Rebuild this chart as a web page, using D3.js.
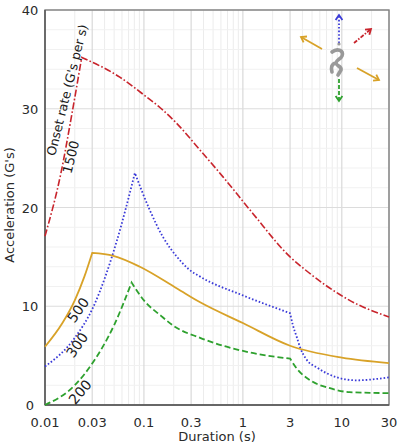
<!DOCTYPE html>
<html>
<head>
<meta charset="utf-8">
<script src="https://cdn.jsdelivr.net/npm/d3@7.9.0/dist/d3.min.js"></script>
<style>
  body { margin: 0; background: #fff; }
  text { font-family: "DejaVu Sans", sans-serif; fill: #2a2a2a; }
</style>
</head>
<body>
<svg width="400" height="445"></svg>
<script>
// tick labels
const xTicks = [0.01, 0.03, 0.1, 0.3, 1, 3, 10, 30];
const xTickLabels = ['0.01', '0.03', '0.1', '0.3', '1', '3', '10', '30'];
const yTicks = [0, 10, 20, 30, 40];

// curves: [duration (s), acceleration (G)]
const red1500 = [[0.01, 17.1], [0.0145, 23.5], [0.0188, 29.6], [0.0235, 35.2], [0.057, 33.2], [0.1, 31.4],
  [0.146, 30.1], [0.206, 28.7], [0.37, 25.8], [0.63, 23.1], [1.26, 19.4], [3, 15.0], [4.26, 13.7], [12, 10.6], [30, 8.9]];
const yellow500 = [[0.01, 5.9], [0.015, 8.3], [0.02, 10.6], [0.025, 13.0], [0.03, 15.4], [0.049, 15.1], [0.091, 14.0],
  [0.216, 11.8], [0.37, 10.4], [1, 8.3], [3, 6.0], [10, 4.8], [30, 4.25]];
const blue300 = [[0.01, 3.9], [0.02, 6.8], [0.031, 10.0], [0.0535, 16.7], [0.081, 23.5], [0.115, 19.7], [0.156, 17.0],
  [0.216, 15.0], [0.28, 13.8], [0.37, 13.0], [1, 11.1], [3, 9.3], [3.2, 8.1], [3.5, 6.9], [3.8, 5.8], [4.4, 4.6],
  [5.6, 3.8], [8.9, 2.8], [14, 2.5], [30, 2.8]];
const green200 = [[0.01, 0], [0.02, 2.0], [0.03, 4.2], [0.05, 8.1], [0.075, 12.4], [0.1, 10.6], [0.15, 9.0],
  [0.2, 8.0], [0.37, 6.8], [1.2, 5.3], [3, 4.7], [3.5, 3.7], [4.8, 2.5], [7.6, 1.7], [12, 1.3], [30, 1.2]];

// index of sharp corners in each curve
const series = [
  { data: red1500, corners: [3], color: '#c8242c', dash: '7,2.2,1.6,2.2', width: 1.6 },
  { data: blue300, corners: [4, 11], color: '#3a3ad8', dash: '1.6,2', width: 1.8 },
  { data: yellow500, corners: [4], color: '#d8a228', dash: null, width: 1.8 },
  { data: green200, corners: [4, 10], color: '#2ea12e', dash: '6,3', width: 1.8 },
];

const svg = d3.select('svg');
const x = d3.scaleLog().domain([0.01, 30]).range([45, 389]);
const y = d3.scaleLinear().domain([0, 40]).range([405, 10]);

// grid
let grid = svg.append('g');
let minorX = [];
[0.01, 0.1, 1, 10].forEach((d) => {
  [2, 4, 5, 6, 7, 8, 9].forEach((m) => { if (d * m < 30) minorX.push(d * m); });
});
grid.selectAll('.mx').data(minorX).join('line')
  .attr('x1', (d) => x(d)).attr('x2', (d) => x(d))
  .attr('y1', y(0)).attr('y2', y(40))
  .attr('stroke', '#ececec').attr('stroke-width', 1);
grid.selectAll('.my').data(d3.range(2, 40, 2).filter((d) => d % 10 !== 0)).join('line')
  .attr('x1', x(0.01)).attr('x2', x(30))
  .attr('y1', (d) => y(d)).attr('y2', (d) => y(d))
  .attr('stroke', '#f1f1f1').attr('stroke-width', 1);
grid.selectAll('.Mx').data(xTicks).join('line')
  .attr('x1', (d) => x(d)).attr('x2', (d) => x(d))
  .attr('y1', y(0)).attr('y2', y(40))
  .attr('stroke', '#d9d9d9').attr('stroke-width', 1.2);
grid.selectAll('.My').data(yTicks).join('line')
  .attr('x1', x(0.01)).attr('x2', x(30))
  .attr('y1', (d) => y(d)).attr('y2', (d) => y(d))
  .attr('stroke', '#dcdcdc').attr('stroke-width', 1.2);

// frame
svg.append('rect')
  .attr('x', x(0.01)).attr('y', y(40))
  .attr('width', x(30) - x(0.01)).attr('height', y(0) - y(40))
  .attr('fill', 'none').attr('stroke', '#808080').attr('stroke-width', 1.4);
svg.append('line').attr('x1', x(0.01)).attr('x2', x(0.01)).attr('y1', y(0)).attr('y2', y(40))
  .attr('stroke', '#555').attr('stroke-width', 1.4);
svg.append('line').attr('x1', x(0.01)).attr('x2', x(30)).attr('y1', y(0)).attr('y2', y(0))
  .attr('stroke', '#555').attr('stroke-width', 1.4);

// tick labels
svg.selectAll('.xt').data(xTicks).join('text')
  .attr('x', (d) => x(d)).attr('y', 427)
  .attr('text-anchor', 'middle').attr('font-size', 13)
  .text((d, i) => xTickLabels[i]);
svg.selectAll('.yt').data(yTicks).join('text')
  .attr('x', 30).attr('y', (d) => y(d) + 5)
  .attr('text-anchor', 'middle').attr('font-size', 13)
  .text((d) => d);

svg.append('text').attr('x', 217).attr('y', 441)
  .attr('text-anchor', 'middle').attr('font-size', 13).text('Duration (s)');
svg.append('text').attr('transform', 'translate(14,205) rotate(-90)')
  .attr('text-anchor', 'middle').attr('font-size', 13).text("Acceleration (G's)");

// curves, split at corners so peaks stay sharp
let line = d3.line().x((d) => x(d[0])).y((d) => y(d[1])).curve(d3.curveMonotoneX);
series.forEach((s) => {
  let cuts = [0, ...s.corners, s.data.length - 1];
  let pathStr = '';
  for (let i = 0; i < cuts.length - 1; i++) {
    let seg = line(s.data.slice(cuts[i], cuts[i + 1] + 1));
    // later segments start where the previous one ended, drop their moveto
    pathStr += i === 0 ? seg : seg.replace(/^M[^CL]*/, '');
  }
  svg.append('path')
    .attr('d', pathStr)
    .attr('fill', 'none')
    .attr('stroke', s.color)
    .attr('stroke-width', s.width)
    .attr('stroke-dasharray', s.dash);
});

// curve labels
const labelStyle = [
  { text: "Onset rate (G's per s)", cx: 67, cy: 90, rot: -76, size: 12.5 },
  { text: '1500', cx: 71, cy: 157, rot: -76, size: 13 },
  { text: '500', cx: 78, cy: 310, rot: -55, size: 14 },
  { text: '300', cx: 77, cy: 345, rot: -55, size: 14 },
  { text: '200', cx: 80, cy: 392, rot: -50, size: 14 },
];
labelStyle.forEach((l) => {
  svg.append('text')
    .attr('transform', `translate(${l.cx},${l.cy}) rotate(${l.rot})`)
    .attr('text-anchor', 'middle').attr('dominant-baseline', 'central')
    .attr('font-size', l.size).style('fill', '#1a1a1a')
    .text(l.text);
});

// direction icon in top right corner
let icon = svg.append('g');
function arrow(x1, y1, x2, y2, color, dash) {
  let a = Math.atan2(y2 - y1, x2 - x1);
  let h = 6;
  icon.append('line').attr('x1', x1).attr('y1', y1).attr('x2', x2).attr('y2', y2)
    .attr('stroke', color).attr('stroke-width', 1.8).attr('stroke-dasharray', dash);
  icon.append('path')
    .attr('d', `M${x2 - h * Math.cos(a - 0.6)},${y2 - h * Math.sin(a - 0.6)}L${x2},${y2}L${x2 - h * Math.cos(a + 0.6)},${y2 - h * Math.sin(a + 0.6)}`)
    .attr('fill', 'none').attr('stroke', color).attr('stroke-width', 1.8);
}
arrow(339, 43, 339, 15, '#3a3ad8', '1.6,2');
arrow(354, 43, 371, 29, '#c8242c', '4,1.5,1.5,1.5');
arrow(322, 49, 301, 37, '#d8a228', null);
arrow(357, 68, 379, 80, '#d8a228', null);
arrow(339, 79, 339, 101, '#2ea12e', '4,2');

icon.append('circle').attr('cx', 339).attr('cy', 44).attr('r', 1.6).attr('fill', '#999');
icon.append('path')
  .attr('d', 'M332,52 C337,48 344,50 342,56 C341,59 336,60 336,63 C336,66 342,66 341,70 L338,75 M336,63 C331,64 331,68 332,72')
  .attr('fill', 'none').attr('stroke', '#999').attr('stroke-width', 3.6)
  .attr('stroke-linecap', 'round').attr('stroke-linejoin', 'round');
</script>
</body>
</html>
